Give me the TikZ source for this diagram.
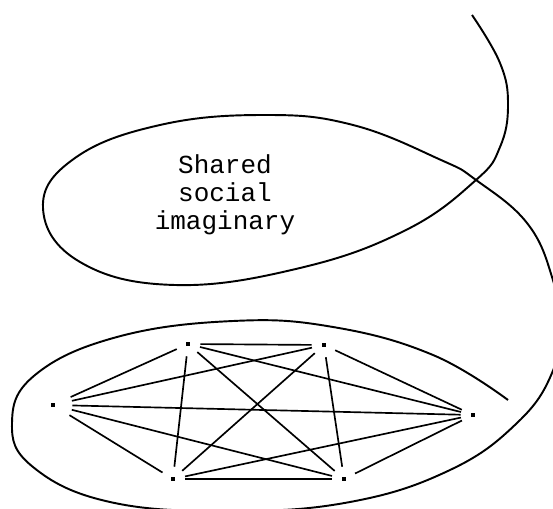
\documentclass[tikz,border=0pt]{standalone}
\usepackage{fontspec}
\newfontfamily\monofont{Liberation Mono}
\tikzset{
  vtx/.style={circle, inner sep=0pt, minimum size=0.48cm, label={[sq]center:}},
  sq/.style={rectangle, fill=black, inner sep=0pt, minimum size=2pt},
  link/.style={line width=0.95pt, draw=black},
  strand/.style={line width=1.1pt, draw=black},
  sitext/.style={align=center, font={\monofont\fontsize{14.8pt}{15.8pt}\selectfont}}
}
\begin{document}
\begin{tikzpicture}[x=0.02cm, y=-0.02cm]
  \clip (0,0) rectangle (553,509);

  % the strand that loops round both regions
  \draw[strand] plot[smooth, tension=0.7] coordinates {
    (472,15) (500,63) (508,105) (500,147) (476,180)
    (406,230) (300,268) (175,285) (80,262) (43,208) (75,158) (160,125)
    (265,115) (353,125) (441,160) (476,180)
    (527,223) (552,277) (559,325) (552,373) (517,423) (450,470) (350,502)
    (230,511) (110,502) (33,467) (12,423) (35,375) (117,337) (233,321)
    (333,327) (433,355) (508,400)};

  \node[sitext] (si) at (225,195) {Shared\\social\\imaginary};

  % the network
  \node[vtx, minimum size=0.76cm] (L) at (53,405) {};
  \node[vtx] (TL) at (188,344) {};
  \node[vtx] (TR) at (324,345) {};
  \node[vtx] (R) at (473,415) {};
  \node[vtx] (BR) at (344,479) {};
  \node[vtx] (BL) at (173,479) {};

  \foreach \a/\b in {L/TL, L/TR, L/R, L/BR, L/BL, TL/TR, TL/R, TL/BR, TL/BL,
                     TR/R, TR/BR, TR/BL, R/BR, R/BL, BR/BL}
    \draw[link] (\a) -- (\b);
\end{tikzpicture}
\end{document}
